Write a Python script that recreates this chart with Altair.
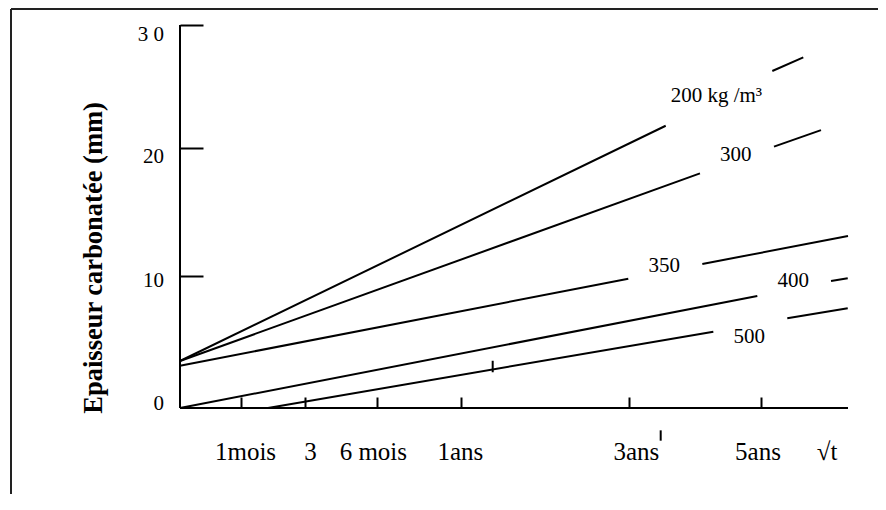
import altair as alt
import pandas as pd

# ---- data (x: position along the sqrt(t) axis, 0-100; y: mm) ----
seg_series = ["200", "200", "300", "300", "350", "350", "400", "400", "500", "500"]
seg_x1 = [0.0, 88.67, 0.0, 88.92, 0.0, 78.19, 0.0, 97.46, 13.17, 90.91]
seg_y1 = [3.68, 26.40, 3.68, 20.47, 3.31, 11.28, 0.0, 9.95, 0.0, 7.03]
seg_x2 = [72.71, 93.31, 77.84, 95.96, 67.11, 100.0, 86.42, 99.96, 79.84, 99.96]
seg_y2 = [22.11, 27.47, 18.38, 21.77, 10.13, 13.47, 8.77, 10.16, 5.98, 7.81]

curve_labels = ["200 kg /m³", "300", "350", "400", "500"]
curve_label_x = [80.3, 83.2, 72.5, 91.8, 85.2]
curve_label_y = [23.99, 19.37, 10.68, 9.50, 5.11]

# tick positions as drawn (hand-placed in the original)
x_tick_pos = [9.10, 18.71, 29.44, 42.07, 67.22, 86.98]
x_labels = ["1mois", "3", "6 mois", "1ans", "3ans", "5ans", "√t"]
x_label_pos = [9.81, 19.54, 28.94, 41.96, 68.32, 86.53, 96.88]

y_tick_pos = [10.34, 20.37, 30.0]
y_labels = ["0", "10", "20", "3 0"]
y_label_pos = [-0.13, 9.50, 19.17, 28.77]

stray_x = [46.81, 71.96]
stray_y1 = [2.80, -1.75]
stray_y2 = [3.70, -2.56]

y_title = "Epaisseur carbonatée (mm)"

# ---- chart ----
W, H = 668, 383
FONT = "Liberation Serif"
xs = alt.Scale(domain=[0, 100], nice=False, zero=False)
ys = alt.Scale(domain=[0, 30], nice=False, zero=False)

# ticks pointing inward: the axes are shifted into the plot by their tick length
x_axis = alt.Axis(values=x_tick_pos, tickSize=11, offset=-11, domain=False, labels=False,
                  title=None, grid=False, ticks=True, tickColor="black", tickWidth=2)
y_axis = alt.Axis(values=y_tick_pos, tickSize=23, offset=-23, domain=False, labels=False,
                  title=None, grid=False, ticks=True, tickColor="black", tickWidth=2)

seg_df = pd.DataFrame(dict(series=seg_series, x1=seg_x1, y1=seg_y1, x2=seg_x2, y2=seg_y2))

lines = alt.Chart(seg_df).mark_rule(color="black", strokeWidth=2).encode(
    x=alt.X("x1:Q", scale=xs, axis=x_axis),
    x2="x2:Q",
    y=alt.Y("y1:Q", scale=ys, axis=y_axis),
    y2="y2:Q",
    detail="series:N",
)

axes_df = pd.DataFrame(dict(x1=[0, 0], y1=[0, 0], x2=[100, 0], y2=[0, 30]))
axis_lines = alt.Chart(axes_df).mark_rule(color="black", strokeWidth=2).encode(
    x=alt.X("x1:Q", scale=xs, axis=x_axis), x2="x2:Q",
    y=alt.Y("y1:Q", scale=ys, axis=y_axis), y2="y2:Q",
)

stray_df = pd.DataFrame(dict(x1=stray_x, y1=stray_y1, y2=stray_y2))
stray = alt.Chart(stray_df).mark_rule(color="black", strokeWidth=2).encode(
    x=alt.X("x1:Q", scale=xs, axis=x_axis),
    y=alt.Y("y1:Q", scale=ys, axis=y_axis), y2="y2:Q",
)

cl_df = pd.DataFrame(dict(label=curve_labels, x1=curve_label_x, y1=curve_label_y))
curve_text = alt.Chart(cl_df).mark_text(
    font=FONT, fontSize=21, color="black", align="center", baseline="alphabetic"
).encode(
    x=alt.X("x1:Q", scale=xs, axis=x_axis),
    y=alt.Y("y1:Q", scale=ys, axis=y_axis),
    text="label:N",
)

xl_df = pd.DataFrame(dict(label=x_labels, x1=x_label_pos))
x_text = alt.Chart(xl_df).mark_text(
    font=FONT, fontSize=25, color="black", align="center", baseline="alphabetic"
).encode(
    x=alt.X("x1:Q", scale=xs, axis=x_axis),
    y=alt.value(435),
    text="label:N",
)

yl_df = pd.DataFrame(dict(label=y_labels, y1=y_label_pos))
y_text = alt.Chart(yl_df).mark_text(
    font=FONT, fontSize=21, color="black", align="right", baseline="alphabetic"
).encode(
    x=alt.value(-16),
    y=alt.Y("y1:Q", scale=ys, axis=y_axis),
    text="label:N",
)

title_df = pd.DataFrame(dict(t=[y_title]))
title_text = alt.Chart(title_df).mark_text(
    font=FONT, fontSize=26.5, fontWeight="bold", color="black",
    angle=270, align="center", baseline="alphabetic"
).encode(
    x=alt.value(-78.3), y=alt.value(232.9), text="t:N",
)

frame_df = pd.DataFrame(dict(a=[0]))
frame_left = alt.Chart(frame_df).mark_rule(color="#222222", strokeWidth=2).encode(
    x=alt.value(-169), y=alt.value(-16), y2=alt.value(469),
)
frame_top = alt.Chart(frame_df).mark_rule(color="#222222", strokeWidth=2).encode(
    x=alt.value(-169), x2=alt.value(698), y=alt.value(-16),
)

chart = alt.layer(
    lines, axis_lines, stray, curve_text, x_text, y_text, title_text, frame_left, frame_top
).properties(
    width=W, height=H,
    background="white",
    autosize=alt.AutoSizeParams(type="none"),
    padding={"left": 172, "top": 17, "right": 30, "bottom": 86},
).configure_view(stroke=None)

chart.save("out.html", embed_options={"renderer": "svg", "actions": False})
